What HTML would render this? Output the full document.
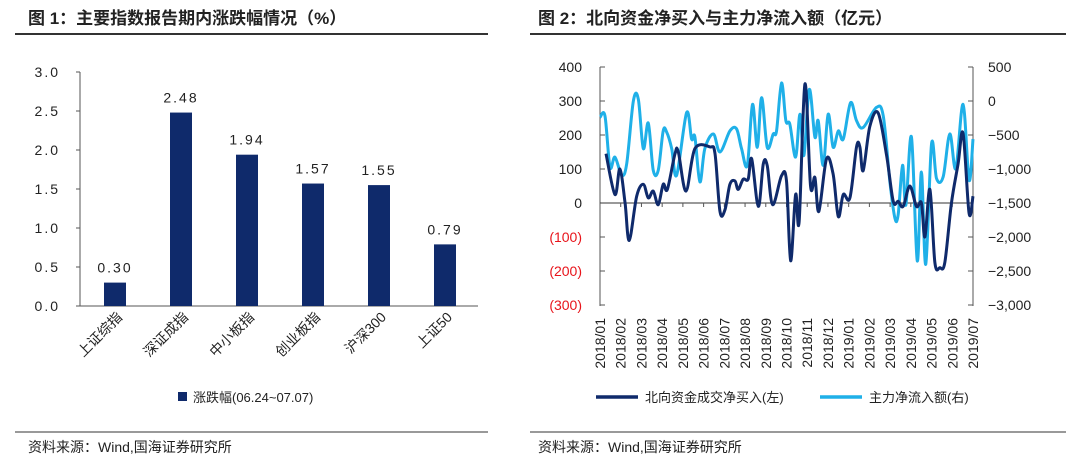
<!DOCTYPE html>
<html><head><meta charset="utf-8"><style>
body{margin:0;background:#fff;width:1080px;height:469px;overflow:hidden;font-family:"Liberation Sans","Noto Sans CJK SC",sans-serif}
svg{position:absolute;left:0;top:0}
</style></head><body>
<svg id="s" width="1080" height="469">
<text x="28" y="24" font-size="17" font-weight="bold" fill="#222">图 1：主要指数报告期内涨跌幅情况（%）</text>
<line x1="15" y1="34" x2="488" y2="34" stroke="#333" stroke-width="2"/>
<text x="538" y="24" font-size="17" font-weight="bold" fill="#222">图 2：北向资金净买入与主力净流入额（亿元）</text>
<line x1="530" y1="34" x2="1066" y2="34" stroke="#333" stroke-width="2"/>
<line x1="15" y1="432" x2="488" y2="432" stroke="#333" stroke-width="1"/>
<line x1="530" y1="432" x2="1066" y2="432" stroke="#333" stroke-width="1"/>
<text x="28" y="452" font-size="14" fill="#222">资料来源：Wind,国海证券研究所</text>
<text x="538" y="452" font-size="14" fill="#222">资料来源：Wind,国海证券研究所</text>
<rect x="178" y="392" width="9" height="9" fill="#0f2a6b"/>
<text x="193" y="402" font-size="13" fill="#222">涨跌幅(06.24~07.07)</text>
<line x1="596" y1="397" x2="638" y2="397" stroke="#0f2a6b" stroke-width="3.5"/>
<text x="645" y="402" font-size="13" fill="#222">北向资金成交净买入(左)</text>
<line x1="820" y1="397" x2="862" y2="397" stroke="#1fb0e8" stroke-width="3.5"/>
<text x="869" y="402" font-size="13" fill="#222">主力净流入额(右)</text>
<g id="g"></g>
</svg>
<script>
const barCats=["上证综指","深证成指","中小板指","创业板指","沪深300","上证50"];
const barVals=[0.30,2.48,1.94,1.57,1.55,0.79];
const barTicks=["0.0","0.5","1.0","1.5","2.0","2.5","3.0"];
const months=["2018/01","2018/02","2018/03","2018/04","2018/05","2018/06","2018/07","2018/08","2018/09","2018/10","2018/11","2018/12","2019/01","2019/02","2019/03","2019/04","2019/05","2019/06","2019/07"];
const leftTicks=[400,300,200,100,0,-100,-200,-300];
const rightTicks=[500,0,-500,-1000,-1500,-2000,-2500,-3000];
const northT=[0.29,0.72,0.96,1.21,1.41,1.77,2.09,2.33,2.57,2.81,3.05,3.25,3.62,3.78,4.15,4.58,5.31,5.55,5.79,6.03,6.27,6.51,6.67,6.91,7.15,7.32,7.64,7.88,8.07,8.33,8.76,9.0,9.2,9.44,9.61,9.89,10.16,10.37,10.56,10.93,11.25,11.5,11.74,12.06,12.38,12.54,12.7,13.02,13.42,13.83,14.15,14.39,14.63,14.95,15.27,15.51,15.68,15.92,16.16,16.4,16.64,16.96,17.28,17.52,17.81,18.0];
const northV=[145,25,100,0,-110,20,55,15,35,-5,55,40,145,150,35,160,165,145,-25,-20,55,65,40,70,70,130,-10,115,110,-5,80,65,-170,25,-55,350,50,75,-25,130,85,-40,25,15,165,165,95,225,265,140,5,5,-10,50,-10,0,-100,40,-175,-190,-175,0,115,205,-30,20];
const mainT=[0,.24,.48,.72,1.05,1.29,1.61,1.85,2.09,2.33,2.57,2.81,3.05,3.22,3.46,3.7,4.18,4.42,4.58,4.82,5.06,5.47,5.79,6.27,6.59,6.83,7.11,7.36,7.59,7.8,8.07,8.36,8.52,8.76,8.97,9.16,9.44,9.65,9.84,10.1,10.37,10.53,10.77,11.01,11.25,11.5,11.74,12.09,12.38,12.7,13.34,13.67,13.99,14.23,14.39,14.6,14.76,15.03,15.31,15.51,15.72,16.0,16.24,16.56,16.88,17.17,17.52,17.81,18.0];
const mainV=[-240,-220,-970,-825,-1090,-920,0,25,-700,-325,-1020,-1020,-440,-460,-700,-1090,-170,-560,-530,-1190,-700,-485,-750,-440,-410,-700,-945,-50,-680,50,-680,-485,-440,265,-290,-340,-825,-195,-800,170,-530,-290,-945,-195,-680,-440,-560,-25,-290,-390,-95,-220,-1190,-1720,-1670,-945,-1530,-530,-2350,-1045,-2400,-630,-1140,-1115,-485,-995,-50,-1165,-560];
const NS="http://www.w3.org/2000/svg",g=document.getElementById('g');
function mk(t,a,txt){const e=document.createElementNS(NS,t);for(const k in a)e.setAttribute(k,a[k]);if(txt!=null)e.textContent=txt;g.appendChild(e);return e;}
const by=v=>306-v*78, bx=i=>115+i*66;
let e=mk('line',{x1:80,y1:72,x2:80,y2:306,stroke:'#555'});


barTicks.forEach(t=>{const y=by(+t);
 mk('line',{x1:76,y1:y,x2:80,y2:y,stroke:'#555'});
 e=mk('text',{x:60,y:y+5,'font-size':14,'text-anchor':'end',fill:'#222','letter-spacing':'2'},t);
 
 });
e=mk('line',{x1:80,y1:306,x2:478,y2:306,stroke:'#555'});


barCats.forEach((c,i)=>{const x=bx(i),v=barVals[i];
 e=mk('rect',{x:x-11,y:by(v),width:22,height:v*78,fill:'#0f2a6b'});
 
 
 e=mk('text',{x:x,y:by(v)-10,'font-size':14,'text-anchor':'middle',fill:'#222','letter-spacing':'2'},v.toFixed(2));
 
 
 e=mk('text',{x:x+8,y:318,'font-size':14,'text-anchor':'end',fill:'#222',transform:`rotate(-45 ${x+8} 318)`},c);
 
 });
const X0=600,X1=973,ly=v=>203-v*0.34,ry=v=>101-v*0.068,tx=t=>X0+t*(X1-X0)/18;
e=mk('line',{x1:X0,y1:67,x2:X0,y2:306,stroke:'#555'});


e=mk('line',{x1:X1,y1:67,x2:X1,y2:306,stroke:'#555'});


leftTicks.forEach(t=>{const y=ly(t);mk('line',{x1:X0,y1:y,x2:X0+5,y2:y,stroke:'#555'});
 e=mk('text',{x:582,y:y+5,'font-size':14,'text-anchor':'end',fill:t<0?'#e8141b':'#222'},t<0?'('+(-t)+')':t);
 
 });
rightTicks.forEach(t=>{const y=ry(t);mk('line',{x1:X1-5,y1:y,x2:X1,y2:y,stroke:'#555'});
 e=mk('text',{x:988,y:y+5,'font-size':14,fill:'#222'},t.toLocaleString('en-US').replace('-','−'));
 
 });
e=mk('line',{x1:X0,y1:ly(0),x2:X1,y2:ly(0),stroke:'#333'});


months.forEach((m,i)=>{const x=tx(i);mk('line',{x1:x,y1:ly(0),x2:x,y2:ly(0)+4,stroke:'#555'});
 e=mk('text',{x:x+5,y:318,'font-size':14,'text-anchor':'end',fill:'#222',transform:`rotate(-90 ${x+5} 318)`},m);
 
 });
function path(T,V,f){const p=T.map((t,i)=>[tx(t),f(V[i])]);let d='M'+p[0];
 for(let i=0;i<p.length-1;i++){const a=p[i-1]||p[i],b=p[i],c=p[i+1],n=p[i+2]||c;
  d+=`C${b[0]+(c[0]-a[0])/6},${b[1]+(c[1]-a[1])/6} ${c[0]-(n[0]-b[0])/6},${c[1]-(n[1]-b[1])/6} ${c[0]},${c[1]}`;}return d;}
e=mk('path',{d:path(mainT,mainV,ry),fill:'none',stroke:'#1fb0e8','stroke-width':3});


e=mk('path',{d:path(northT,northV,ly),fill:'none',stroke:'#0f2a6b','stroke-width':3});


</script>
</body></html>
